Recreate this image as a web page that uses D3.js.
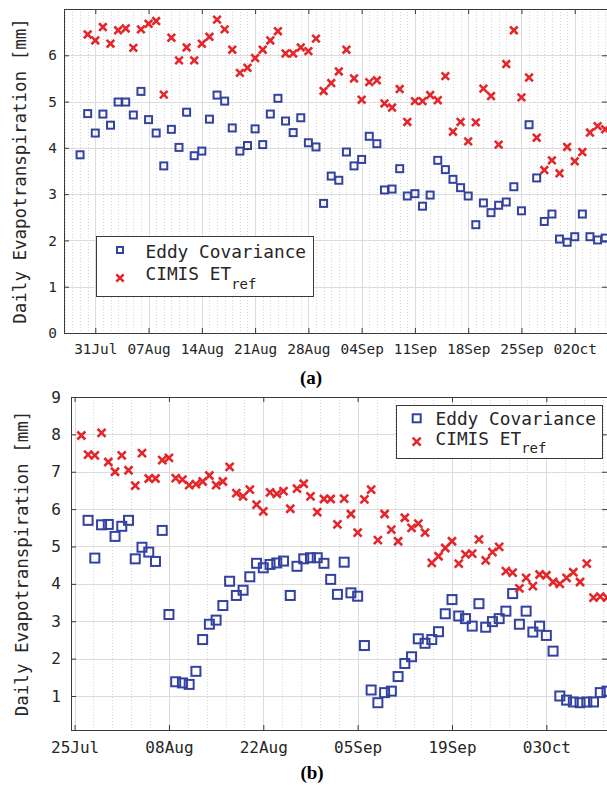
<!DOCTYPE html>
<html>
<head>
<meta charset="utf-8">
<script src="https://cdn.jsdelivr.net/npm/d3@7"></script>
<style>
  body { margin: 0; background: #fff; }
  svg { display: block; }
  .tick-label { font-family: "DejaVu Sans Mono", monospace; fill: #262626; }
</style>
</head>
<body>
<div id="chart"></div>
<script>
// ---- data ----
var topEddyDates = ["07-29","07-30","07-31","08-01","08-02","08-03","08-04","08-05","08-06","08-07",
  "08-08","08-09","08-10","08-11","08-12","08-13","08-14","08-15","08-16","08-17",
  "08-18","08-19","08-20","08-21","08-22","08-23","08-24","08-25","08-26","08-27",
  "08-28","08-29","08-30","08-31","09-01","09-02","09-03","09-04","09-05","09-06",
  "09-07","09-08","09-09","09-10","09-11","09-12","09-13","09-14","09-15","09-16",
  "09-17","09-18","09-19","09-20","09-21","09-22","09-23","09-24","09-25","09-26",
  "09-27","09-28","09-29","09-30","10-01","10-02","10-03","10-04","10-05","10-06"];
var topEddy = [3.85,4.74,4.32,4.73,4.49,4.99,4.99,4.71,5.22,4.61,
  4.32,3.61,4.40,4.01,4.77,3.83,3.93,4.62,5.14,5.01,
  4.43,3.93,4.05,4.41,4.07,4.73,5.07,4.58,4.33,4.65,
  4.11,4.02,2.80,3.39,3.30,3.91,3.61,3.75,4.25,4.09,
  3.09,3.11,3.55,2.96,3.01,2.74,2.98,3.73,3.53,3.32,
  3.14,2.96,2.34,2.81,2.60,2.76,2.83,3.16,2.64,4.50,
  3.35,2.41,2.57,2.03,1.96,2.08,2.57,2.08,2.01,2.05];

var topCimisDates = ["07-30","07-31","08-01","08-02","08-03","08-04","08-05","08-06","08-07",
  "08-08","08-09","08-10","08-11","08-12","08-13","08-14","08-15","08-16","08-17",
  "08-18","08-19","08-20","08-21","08-22","08-23","08-24","08-25","08-26","08-27",
  "08-28","08-29","08-30","08-31","09-01","09-02","09-03","09-04","09-05","09-06",
  "09-07","09-08","09-09","09-10","09-11","09-12","09-13","09-14","09-15","09-16",
  "09-17","09-18","09-19","09-20","09-21","09-22","09-23","09-24","09-25","09-26",
  "09-27","09-28","09-29","09-30","10-01","10-02","10-03","10-04","10-05","10-06"];
var topCimis = [6.45,6.32,6.61,6.25,6.54,6.58,6.16,6.56,6.68,
  6.74,5.15,6.38,5.89,6.17,5.89,6.25,6.40,6.77,6.56,
  6.12,5.62,5.73,5.94,6.12,6.32,6.52,6.04,6.04,6.17,
  6.09,6.36,5.23,5.40,5.65,6.12,5.50,5.04,5.42,5.46,
  4.96,4.87,5.27,4.56,5.01,5.01,5.14,5.03,5.55,4.35,
  4.56,4.14,4.55,5.28,5.12,4.07,5.81,6.54,5.09,5.52,
  4.22,3.52,3.73,3.45,4.02,3.71,3.91,4.33,4.47,4.40];

var bottomEddyDates = ["07-27","07-28","07-29","07-30","07-31","08-01","08-02","08-03","08-04","08-05",
  "08-06","08-07","08-08","08-09","08-10","08-11","08-12","08-13","08-14","08-15",
  "08-16","08-17","08-18","08-19","08-20","08-21","08-22","08-23","08-24","08-25",
  "08-26","08-27","08-28","08-29","08-30","08-31","09-01","09-02","09-03","09-04",
  "09-05","09-06","09-07","09-08","09-09","09-10","09-11","09-12","09-13","09-14",
  "09-15","09-16","09-17","09-18","09-19","09-20","09-21","09-22","09-23","09-24",
  "09-25","09-26","09-27","09-28","09-29","09-30","10-01","10-02","10-03","10-04",
  "10-05","10-06","10-07","10-08","10-09","10-10","10-11","10-12"];
var bottomEddy = [5.70,4.69,5.58,5.59,5.27,5.54,5.70,4.67,4.98,4.85,
  4.60,5.43,3.18,1.38,1.35,1.31,1.66,2.51,2.92,3.03,
  3.42,4.07,3.69,3.83,4.19,4.55,4.43,4.52,4.56,4.61,
  3.69,4.47,4.67,4.70,4.70,4.55,4.12,3.72,4.58,3.76,
  3.67,2.35,1.16,0.82,1.09,1.13,1.52,1.87,2.05,2.53,
  2.41,2.51,2.72,3.20,3.58,3.14,3.07,2.87,3.47,2.84,
  2.99,3.07,3.27,3.74,2.92,3.27,2.71,2.87,2.62,2.20,
  1.00,0.89,0.84,0.82,0.84,0.84,1.09,1.13];

var bottomCimisDates = ["07-26","07-27","07-28","07-29","07-30","07-31","08-01","08-02","08-03","08-04",
  "08-05","08-06","08-07","08-08","08-09","08-10","08-11","08-12","08-13","08-14",
  "08-15","08-16","08-17","08-18","08-19","08-20","08-21","08-22","08-23","08-24",
  "08-25","08-26","08-27","08-28","08-29","08-30","08-31","09-01","09-02","09-03",
  "09-04","09-05","09-06","09-07","09-08","09-09","09-10","09-11","09-12","09-13",
  "09-14","09-15","09-16","09-17","09-18","09-19","09-20","09-21","09-22","09-23",
  "09-24","09-25","09-26","09-27","09-28","09-29","09-30","10-01","10-02","10-03",
  "10-04","10-05","10-06","10-07","10-08","10-09","10-10","10-11","10-12"];
var bottomCimis = [7.97,7.46,7.44,8.04,7.26,7.00,7.44,7.04,6.63,7.50,
  6.82,6.82,7.31,7.37,6.83,6.79,6.64,6.67,6.74,6.90,
  6.64,6.74,7.13,6.43,6.34,6.52,6.12,5.94,6.45,6.41,
  6.48,6.01,6.55,6.68,6.34,5.92,6.27,6.27,5.59,6.28,
  5.87,5.37,6.26,6.52,5.17,5.87,5.45,5.14,5.77,5.50,
  5.61,5.37,4.56,4.74,4.96,5.14,4.54,4.79,4.81,5.19,
  4.63,4.85,4.99,4.34,4.30,3.88,4.16,3.94,4.25,4.23,
  4.05,4.00,4.16,4.31,4.05,4.54,3.63,3.66,3.63];

var topTickDates = ["07-31","08-07","08-14","08-21","08-28","09-04","09-11","09-18","09-25","10-02"];
var bottomTickDates = ["07-25","08-08","08-22","09-05","09-19","10-03"];
var topYTicks = [0,1,2,3,4,5,6];
var bottomYTicks = [1,2,3,4,5,6,7,8,9];

var seriesNames = ["Eddy Covariance", "CIMIS ET"];

// ---- drawing ----
var parseDay = d3.timeParse("%m-%d");
var fmtTick = d3.timeFormat("%d%b");
var blue = "#3342a0", red = "#e4262b", axisCol = "#3a3a3a";

var W = 607, H = 785;
var svg = d3.select("#chart").append("svg").attr("width", W).attr("height", H);

function zip(dates, vals) {
  return dates.map(function (d, i) { return { date: parseDay(d), value: vals[i] }; });
}

function drawPanel(cfg) {
  var g = svg.append("g");
  var x = d3.scaleTime().domain(cfg.xDomain).range([cfg.left, cfg.right]);
  var y = d3.scaleLinear().domain(cfg.yDomain).range([cfg.bottom, cfg.top]);
  var majors = cfg.xTicks.map(parseDay);

  // minor vertical grid (dotted)
  var minors = [];
  var step = (majors[1] - majors[0]) / cfg.minorPer;
  var t0 = +majors[0];
  while (t0 - step >= +cfg.xDomain[0]) t0 -= step;
  for (var t = t0; t <= +cfg.xDomain[1]; t += step) minors.push(new Date(t));
  g.append("g").selectAll("line").data(minors).enter().append("line")
    .attr("x1", function (d) { return Math.round(x(d)) + 0.5; })
    .attr("x2", function (d) { return Math.round(x(d)) + 0.5; })
    .attr("y1", cfg.top).attr("y2", cfg.bottom)
    .attr("stroke", "#d6d6d6").attr("stroke-width", 1)
    .attr("stroke-dasharray", "1,2");

  // major grid
  g.append("g").selectAll("line").data(majors).enter().append("line")
    .attr("x1", function (d) { return Math.round(x(d)) + 0.5; })
    .attr("x2", function (d) { return Math.round(x(d)) + 0.5; })
    .attr("y1", cfg.top).attr("y2", cfg.bottom)
    .attr("stroke", "#dcdcdc").attr("stroke-width", 1);
  g.append("g").selectAll("line").data(cfg.yTicks).enter().append("line")
    .attr("x1", cfg.left).attr("x2", cfg.right)
    .attr("y1", function (d) { return Math.round(y(d)) + 0.5; })
    .attr("y2", function (d) { return Math.round(y(d)) + 0.5; })
    .attr("stroke", "#dcdcdc").attr("stroke-width", 1);

  // axes (ticks inward, MATLAB style)
  var xAxisB = d3.axisBottom(x).tickValues(majors).tickFormat(fmtTick).tickSizeInner(-5).tickSizeOuter(0).tickPadding(cfg.xPad);
  var gxb = g.append("g").attr("transform", "translate(0," + cfg.bottom + ")").call(xAxisB);
  var xAxisT = d3.axisTop(x).tickValues(majors).tickFormat("").tickSizeInner(-5).tickSizeOuter(0);
  var gxt = g.append("g").attr("transform", "translate(0," + cfg.top + ")").call(xAxisT);
  var yAxisL = d3.axisLeft(y).tickValues(cfg.yTicks).tickFormat(d3.format("d")).tickSizeInner(-5).tickSizeOuter(0).tickPadding(cfg.yPad);
  var gyl = g.append("g").attr("transform", "translate(" + cfg.left + ",0)").call(yAxisL);
  var yAxisR = d3.axisRight(y).tickValues(cfg.yTicks).tickFormat("").tickSizeInner(-5).tickSizeOuter(0);
  var gyr = g.append("g").attr("transform", "translate(" + cfg.right + ",0)").call(yAxisR);
  [gxb, gxt, gyl, gyr].forEach(function (a) {
    a.select(".domain").remove();
    a.selectAll(".tick line").attr("stroke", axisCol);
    a.selectAll("text").attr("class", "tick-label").style("font-size", cfg.tickFont + "px");
  });
  g.append("line").attr("x1", cfg.left).attr("x2", cfg.right).attr("y1", cfg.bottom + 0.5).attr("y2", cfg.bottom + 0.5).attr("stroke", axisCol);
  g.append("line").attr("x1", cfg.left).attr("x2", cfg.right).attr("y1", cfg.top + 0.5).attr("y2", cfg.top + 0.5).attr("stroke", axisCol);
  g.append("line").attr("x1", cfg.left + 0.5).attr("x2", cfg.left + 0.5).attr("y1", cfg.top).attr("y2", cfg.bottom + 1).attr("stroke", axisCol);

  // y label
  g.append("text")
    .attr("transform", "translate(" + cfg.yLabelX + "," + ((cfg.top + cfg.bottom) / 2) + ") rotate(-90)")
    .attr("text-anchor", "middle")
    .attr("class", "tick-label")
    .style("font-size", cfg.labelFont + "px")
    .text("Daily Evapotranspiration [mm]");

  // markers
  var s = cfg.sq;
  g.append("g").selectAll("rect").data(zip(cfg.eddyDates, cfg.eddy)).enter().append("rect")
    .attr("x", function (d) { return x(d.date) - s / 2; })
    .attr("y", function (d) { return y(d.value) - s / 2; })
    .attr("width", s).attr("height", s)
    .attr("fill", "none").attr("stroke", blue).attr("stroke-width", cfg.sqStroke);

  var c = cfg.cross;
  g.append("g").selectAll("path").data(zip(cfg.cimisDates, cfg.cimis)).enter().append("path")
    .attr("d", function (d) {
      var px = x(d.date), py = y(d.value);
      return "M" + (px - c) + "," + (py - c) + "L" + (px + c) + "," + (py + c) +
             "M" + (px - c) + "," + (py + c) + "L" + (px + c) + "," + (py - c);
    })
    .attr("fill", "none").attr("stroke", red).attr("stroke-width", 2.6);

  // legend
  var L = cfg.legend;
  var lg = g.append("g");
  lg.append("rect").attr("x", L.x + 0.5).attr("y", L.y + 0.5).attr("width", L.w).attr("height", L.h)
    .attr("fill", "#fff").attr("stroke", axisCol).attr("stroke-width", 1);
  lg.append("rect").attr("x", L.mx - L.sq / 2).attr("y", L.row1 - L.sq / 2).attr("width", L.sq).attr("height", L.sq)
    .attr("fill", "none").attr("stroke", blue).attr("stroke-width", 2);
  var lc = L.cross;
  lg.append("path")
    .attr("d", "M" + (L.mx - lc) + "," + (L.row2 - lc) + "L" + (L.mx + lc) + "," + (L.row2 + lc) +
               "M" + (L.mx - lc) + "," + (L.row2 + lc) + "L" + (L.mx + lc) + "," + (L.row2 - lc))
    .attr("stroke", red).attr("stroke-width", 2.6).attr("fill", "none");
  lg.append("text").attr("class", "tick-label").attr("x", L.tx).attr("y", L.base1)
    .style("font-size", L.font + "px").text(seriesNames[0]);
  var t2 = lg.append("text").attr("class", "tick-label").attr("x", L.tx).attr("y", L.base2)
    .style("font-size", L.font + "px").text(seriesNames[1]);
  t2.append("tspan").attr("dy", L.subDy).style("font-size", L.subFont + "px").text("ref");

  // caption
  svg.append("text").attr("x", cfg.capX).attr("y", cfg.capY).attr("text-anchor", "middle")
    .style("font-family", "'Liberation Serif', 'Times New Roman', serif").style("font-weight", "bold")
    .style("font-size", "19px").attr("fill", "#000").text(cfg.caption);
}

drawPanel({
  left: 64, right: 607, top: 9, bottom: 333,
  xDomain: [new Date(1900, 6, 26, 21, 20), new Date(1900, 9, 6, 5, 45)],
  yDomain: [0, 7],
  xTicks: topTickDates, yTicks: topYTicks, minorPer: 7,
  eddyDates: topEddyDates, eddy: topEddy, cimisDates: topCimisDates, cimis: topCimis,
  sq: 7, sqStroke: 2, cross: 3.8,
  tickFont: 14.4, xPad: 11, yPad: 7, labelFont: 17.5, yLabelX: 26,
  legend: { x: 96, y: 236, w: 217, h: 60, mx: 120, row1: 250, row2: 278, sq: 6, cross: 3.6,
            tx: 145.5, base1: 258, base2: 280, font: 17.8, subFont: 14, subDy: 9 },
  caption: "(a)", capX: 311, capY: 384
});

drawPanel({
  left: 71, right: 607, top: 397, bottom: 730,
  xDomain: [new Date(1900, 6, 24, 11, 10), new Date(1900, 9, 12, 0, 0)],
  yDomain: [0.09, 9],
  xTicks: bottomTickDates, yTicks: bottomYTicks, minorPer: 5,
  eddyDates: bottomEddyDates, eddy: bottomEddy, cimisDates: bottomCimisDates, cimis: bottomCimis,
  sq: 9, sqStroke: 2, cross: 4,
  tickFont: 16, xPad: 12, yPad: 10, labelFont: 17.5, yLabelX: 28,
  legend: { x: 396, y: 405, w: 206, h: 53, mx: 416.7, row1: 418.3, row2: 441.7, sq: 8, cross: 4,
            tx: 435.5, base1: 425, base2: 445, font: 17.8, subFont: 14, subDy: 8 },
  caption: "(b)", capX: 312, capY: 779
});
</script>
</body>
</html>
